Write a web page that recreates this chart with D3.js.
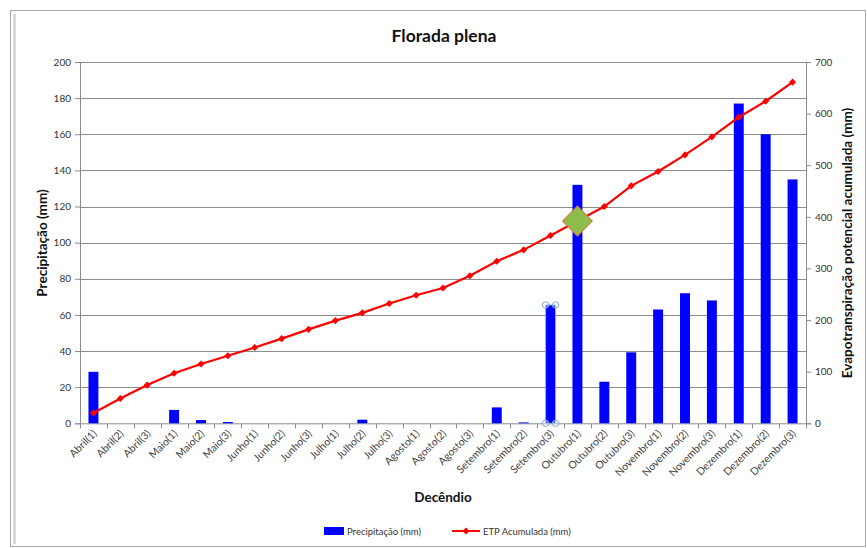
<!DOCTYPE html>
<html><head><meta charset="utf-8">
<script src="https://cdn.jsdelivr.net/npm/d3@7"></script>
<style>
html,body{margin:0;padding:0;background:#fff;}
svg text{font-family:Lato,"Open Sans",sans-serif;}
</style></head>
<body><svg id="c" width="867" height="548"></svg>
<script>
const categories = ["Abril(1)","Abril(2)","Abril(3)","Maio(1)","Maio(2)","Maio(3)","Junho(1)","Junho(2)","Junho(3)","Julho(1)","Julho(2)","Julho(3)","Agosto(1)","Agosto(2)","Agosto(3)","Setembro(1)","Setembro(2)","Setembro(3)","Outubro(1)","Outubro(2)","Outubro(3)","Novembro(1)","Novembro(2)","Novembro(3)","Dezembro(1)","Dezembro(2)","Dezembro(3)"];
const precipitacao = [28.5,0,0,7.4,1.8,0.7,0,0,0,0,2,0,0,0,0,8.8,0.5,65.5,132,23,39.3,63,72,68,177,160,135];
const etpAcumulada = [20,48,74,97,115,131,147,164,182,199,214,232,248,262,286,314,336,364,392,420,460,488,520,555,593,624,661];
const leftTicks = [0,20,40,60,80,100,120,140,160,180,200];
const rightTicks = [0,100,200,300,400,500,600,700];
const highlightCategory = "Outubro(1)";
const selectedCategory = "Setembro(3)";

const svg = d3.select("#c");
const m = {l:80, r:806, t:62, b:423.3};

// frame
svg.append("rect").attr("x",10.5).attr("y",10.5).attr("width",855).attr("height",536)
  .attr("fill","#fff").attr("stroke","#a8a8a8").attr("stroke-width",1);
svg.append("line").attr("x1",14.5).attr("x2",14.5).attr("y1",14).attr("y2",544).attr("stroke","#d8d8d8").attr("stroke-width",3);

const x = d3.scaleBand().domain(categories).range([m.l,m.r]).paddingInner(0.63).paddingOuter(0.315);
const xc = d3.scalePoint().domain(categories).range([m.l,m.r]).padding(0.5);
const yL = d3.scaleLinear().domain([0,200]).range([m.b,m.t]);
const yR = d3.scaleLinear().domain([0,700]).range([m.b,m.t]);

// gridlines
svg.append("g").selectAll("line").data(leftTicks.slice(1)).join("line")
  .attr("x1",m.l).attr("x2",m.r).attr("y1",d=>Math.round(yL(d))+0.5).attr("y2",d=>Math.round(yL(d))+0.5)
  .attr("stroke","#8c8c8c").attr("stroke-width",1);

// left axis
const gL = svg.append("g").attr("transform",`translate(${m.l},0)`)
  .call(d3.axisLeft(yL).tickValues(leftTicks).tickSize(5).tickPadding(4));
gL.select(".domain").attr("stroke","#8c8c8c");
gL.selectAll(".tick line").attr("stroke","#8c8c8c");
gL.selectAll("text").attr("font-size",10).attr("fill","#333");

// right axis
const gR = svg.append("g").attr("transform",`translate(${m.r},0)`)
  .call(d3.axisRight(yR).tickValues(rightTicks).tickSize(5).tickPadding(4));
gR.select(".domain").attr("stroke","#8c8c8c");
gR.selectAll(".tick line").attr("stroke","#8c8c8c");
gR.selectAll("text").attr("font-size",10).attr("fill","#333");

// x axis
const step = (m.r-m.l)/categories.length;
const gX = svg.append("g").attr("transform",`translate(0,${m.b})`);
gX.append("line").attr("x1",m.l).attr("x2",m.r).attr("y1",0.5).attr("y2",0.5).attr("stroke","#8c8c8c");
gX.selectAll("line.t").data(d3.range(categories.length+1)).join("line").attr("class","t")
  .attr("x1",i=>Math.round(m.l+i*step)+0.5).attr("x2",i=>Math.round(m.l+i*step)+0.5)
  .attr("y1",0).attr("y2",5).attr("stroke","#8c8c8c");
gX.selectAll("text").data(categories).join("text")
  .attr("transform",d=>`translate(${xc(d)+4},${11}) rotate(-45)`)
  .attr("text-anchor","end").attr("font-size",10.5).attr("fill","#444")
  .text(d=>d);

// bars
svg.append("g").selectAll("rect").data(categories).join("rect")
  .attr("x",d=>x(d)).attr("width",x.bandwidth())
  .attr("y",(d,i)=>yL(precipitacao[i])).attr("height",(d,i)=>m.b-yL(precipitacao[i]))
  .attr("fill","#0000ff");

// selection handles on selected bar
const si = categories.indexOf(selectedCategory);
svg.append("rect").attr("x",x(selectedCategory)).attr("y",yL(precipitacao[si])).attr("width",x.bandwidth())
  .attr("height",m.b-yL(precipitacao[si])).attr("fill","none").attr("stroke","#8fb0dc").attr("stroke-width",1);
const hs = [[x(selectedCategory),yL(precipitacao[si])],[x(selectedCategory)+x.bandwidth(),yL(precipitacao[si])],
            [x(selectedCategory),m.b],[x(selectedCategory)+x.bandwidth(),m.b]];
svg.append("g").selectAll("circle").data(hs).join("circle")
  .attr("cx",d=>d[0]).attr("cy",d=>d[1]).attr("r",3.2)
  .attr("fill","#fff").attr("fill-opacity",0.3).attr("stroke","#7fa8d8").attr("stroke-width",1);

// ETP line
const line = d3.line().x((d,i)=>xc(categories[i])).y(d=>yR(d));
svg.append("path").datum(etpAcumulada).attr("d",line).attr("fill","none").attr("stroke","#ff0000").attr("stroke-width",2.2);
const diamond = d3.symbol().type(d3.symbolDiamond2).size(32);
svg.append("g").selectAll("path").data(etpAcumulada).join("path")
  .attr("transform",(d,i)=>`translate(${xc(categories[i])},${yR(d)})`)
  .attr("d",diamond).attr("fill","#ff0000");

// highlight diamond
const hi = categories.indexOf(highlightCategory);
svg.append("path").attr("transform",`translate(${xc(highlightCategory)},${yR(etpAcumulada[hi])})`)
  .attr("d",d3.symbol().type(d3.symbolDiamond2).size(560)).attr("fill","#8dbd4a").attr("stroke","#c98a45").attr("stroke-width",1.2);

// titles
svg.append("text").attr("x",444).attr("y",42).attr("text-anchor","middle").attr("font-size",17.5).attr("font-weight","bold").attr("fill","#111").text("Florada plena");
svg.append("text").attr("transform","translate(47,243) rotate(-90)").attr("text-anchor","middle").attr("font-size",13.5).attr("font-weight","bold").attr("fill","#111").text("Precipitação (mm)");
svg.append("text").attr("transform","translate(852,243) rotate(-90)").attr("text-anchor","middle").attr("font-size",13.5).attr("font-weight","bold").attr("fill","#111").text("Evapotranspiração potencial acumulada (mm)");
svg.append("text").attr("x",443).attr("y",502).attr("text-anchor","middle").attr("font-size",13.5).attr("font-weight","bold").attr("fill","#111").text("Decêndio");

// legend
const lg = svg.append("g").attr("transform","translate(0,531)");
lg.append("rect").attr("x",324).attr("y",-4).attr("width",20).attr("height",8).attr("fill","#0000ff");
lg.append("text").attr("x",347).attr("y",3.5).attr("font-size",9.5).attr("fill","#333").text("Precipitação (mm)");
lg.append("line").attr("x1",452).attr("x2",480).attr("y1",0).attr("y2",0).attr("stroke","#ff0000").attr("stroke-width",2);
lg.append("path").attr("transform","translate(466,0)").attr("d",diamond).attr("fill","#ff0000");
lg.append("text").attr("x",483).attr("y",3.5).attr("font-size",9.5).attr("fill","#333").text("ETP Acumulada (mm)");
</script></body></html>
